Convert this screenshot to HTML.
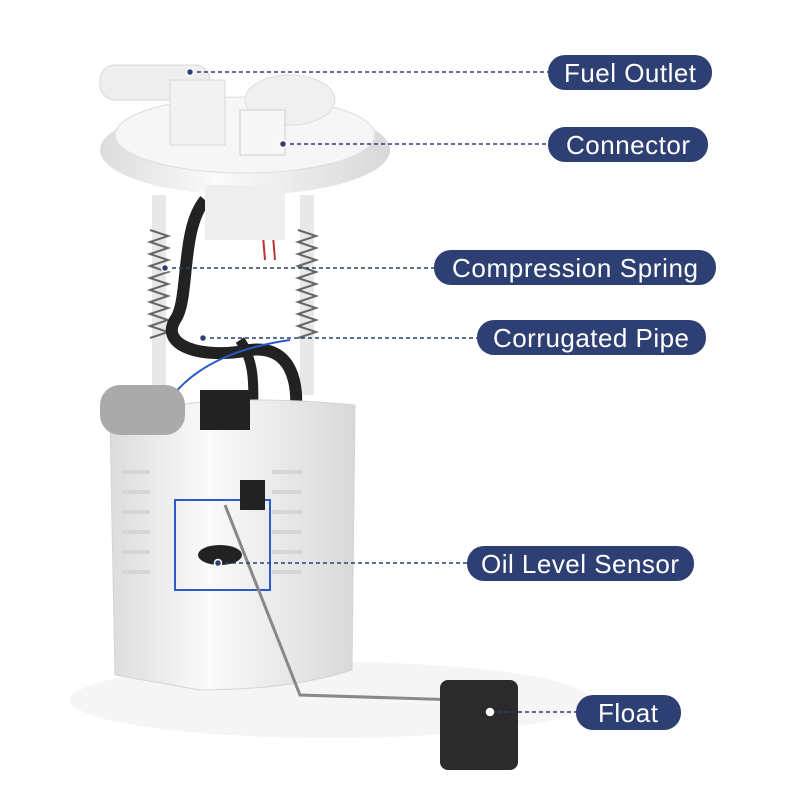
<!DOCTYPE html>
<html><head><style>
html,body{margin:0;padding:0;background:#fff;}
svg{display:block}
text{font-family:"Liberation Sans",sans-serif;fill:#fff;font-size:26px}
</style></head><body>
<svg width="800" height="800" viewBox="0 0 800 800">
<defs>
<linearGradient id="b" x1="0" x2="1"><stop offset="0" stop-color="#dcdcdc"/><stop offset=".4" stop-color="#fafafa"/><stop offset="1" stop-color="#d8d8d8"/></linearGradient>
</defs>
<ellipse cx="330" cy="700" rx="260" ry="38" fill="#f5f5f5"/>
<rect x="152" y="195" width="14" height="200" fill="#e8e8e8"/>
<rect x="300" y="195" width="14" height="200" fill="#e8e8e8"/>
<g stroke="#666" stroke-width="2" fill="none">
<path d="M150 230 L168 236 L150 242 L168 248 L150 254 L168 260 L150 266 L168 272 L150 278 L168 284 L150 290 L168 296 L150 302 L168 308 L150 314 L168 320 L150 326 L168 332 L150 338"/>
<path d="M298 230 L316 236 L298 242 L316 248 L298 254 L316 260 L298 266 L316 272 L298 278 L316 284 L298 290 L316 296 L298 302 L316 308 L298 314 L316 320 L298 326 L316 332 L298 338"/>
</g>
<path d="M205 200 C180 230 190 300 175 320 C160 345 200 360 250 350 C290 345 300 380 295 420" stroke="#222" stroke-width="12" fill="none"/>
<path d="M240 340 C260 370 250 400 255 420" stroke="#222" stroke-width="10" fill="none"/>
<path d="M260 200 L265 260 M270 200 L275 260" stroke="#b33" stroke-width="2"/>
<path d="M150 450 C160 380 220 350 290 340" stroke="#2a5bc8" stroke-width="2" fill="none"/>
<ellipse cx="245" cy="150" rx="145" ry="45" fill="url(#b)"/>
<ellipse cx="245" cy="135" rx="130" ry="38" fill="#f6f6f6" stroke="#ddd"/>
<ellipse cx="290" cy="100" rx="45" ry="25" fill="#f0f0f0" stroke="#ddd"/>
<rect x="100" y="65" width="110" height="35" rx="15" fill="#eee" stroke="#d8d8d8"/>
<rect x="170" y="80" width="55" height="65" fill="#f2f2f2" stroke="#d8d8d8"/>
<rect x="240" y="110" width="45" height="45" fill="#f7f7f7" stroke="#ccc"/>
<rect x="205" y="185" width="80" height="55" fill="#eee"/>
<path d="M110 420 Q200 390 355 405 L352 670 Q290 690 200 690 L115 675 Z" fill="url(#b)" stroke="#d4d4d4"/>
<g fill="#d6d6d6">
<rect x="122" y="470" width="28" height="4"/><rect x="122" y="490" width="28" height="4"/><rect x="122" y="510" width="28" height="4"/><rect x="122" y="530" width="28" height="4"/><rect x="122" y="550" width="28" height="4"/><rect x="122" y="570" width="28" height="4"/>
<rect x="272" y="470" width="30" height="4"/><rect x="272" y="490" width="30" height="4"/><rect x="272" y="510" width="30" height="4"/><rect x="272" y="530" width="30" height="4"/><rect x="272" y="550" width="30" height="4"/><rect x="272" y="570" width="30" height="4"/>
</g>
<rect x="100" y="385" width="85" height="50" rx="20" fill="#aaa"/>
<rect x="200" y="390" width="50" height="40" fill="#222"/>
<rect x="175" y="500" width="95" height="90" fill="none" stroke="#2a5bc8" stroke-width="2"/>
<ellipse cx="220" cy="555" rx="22" ry="10" fill="#222"/>
<rect x="240" y="480" width="25" height="30" fill="#222"/>
<path d="M225 505 L300 695 L460 700" stroke="#888" stroke-width="3" fill="none"/>
<rect x="440" y="680" width="78" height="90" rx="8" fill="#2b2b2b"/>
<g stroke="#2e3f73" stroke-width="1.5" stroke-dasharray="4,3" fill="none">
<line x1="190" y1="72" x2="550" y2="72"/>
<line x1="283" y1="144" x2="550" y2="144"/>
<line x1="165" y1="268" x2="436" y2="268"/>
<line x1="203" y1="338" x2="479" y2="338"/>
<line x1="218" y1="563" x2="469" y2="563"/>
<line x1="490" y1="712" x2="578" y2="712"/>
</g>
<g fill="#2e3f73" stroke="#fff" stroke-width="1.5">
<circle cx="190" cy="72" r="3.5"/><circle cx="283" cy="144" r="3.5"/><circle cx="165" cy="268" r="3.5"/><circle cx="203" cy="338" r="3.5"/><circle cx="218" cy="563" r="3.5"/><circle cx="490" cy="712" r="3.5" fill="#fff"/>
</g>
<g fill="#2e3f73">
<rect x="548" y="55" width="164" height="35" rx="17"/>
<rect x="548" y="127" width="160" height="35" rx="17"/>
<rect x="434" y="250" width="282" height="35" rx="17"/>
<rect x="477" y="320" width="229" height="35" rx="17"/>
<rect x="467" y="546" width="227" height="35" rx="17"/>
<rect x="576" y="695" width="105" height="35" rx="17"/>
</g>
<text x="630" y="82" text-anchor="middle" textLength="132">Fuel Outlet</text>
<text x="628" y="154" text-anchor="middle" textLength="124">Connector</text>
<text x="575" y="277" text-anchor="middle" textLength="246">Compression Spring</text>
<text x="591" y="347" text-anchor="middle" textLength="196">Corrugated Pipe</text>
<text x="580" y="573" text-anchor="middle" textLength="198">Oil Level Sensor</text>
<text x="628" y="722" text-anchor="middle" textLength="60">Float</text>
</svg>
</body></html>
